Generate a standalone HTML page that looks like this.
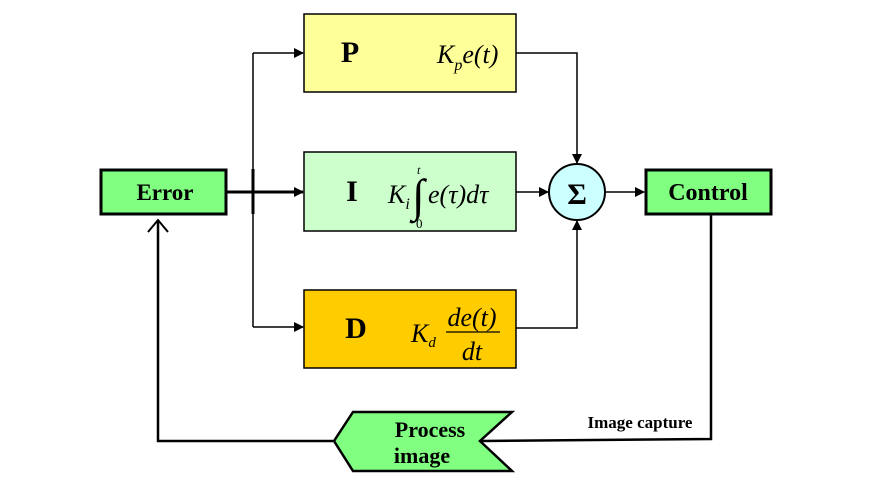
<!DOCTYPE html>
<html><head><meta charset="utf-8"><style>
body{margin:0;background:#fff}
svg text{font-family:"Liberation Serif",serif}
</style></head><body>
<svg width="887" height="474" viewBox="0 0 887 474">
<defs><marker id="ah" markerWidth="10" markerHeight="10" refX="9" refY="5" orient="auto" markerUnits="userSpaceOnUse"><path d="M0,0 L10,5 L0,10z" fill="#000"/></marker></defs>
<g stroke="#000" stroke-width="1.5" fill="none">
<path d="M253,53 V327"/>
<path d="M253,53 H303" marker-end="url(#ah)"/>
<path d="M253,327 H303" marker-end="url(#ah)"/>
<path d="M226,192 H303" stroke-width="3" marker-end="url(#ah)"/>
<path d="M253,169 V214" stroke-width="3"/>
<path d="M516,53 H577 V163" marker-end="url(#ah)"/>
<path d="M516,328 H577 V221" marker-end="url(#ah)"/>
<path d="M516,192 H548" marker-end="url(#ah)"/>
<path d="M605,192 H644" marker-end="url(#ah)"/>
<path d="M711,214 V439 L480,441" stroke-width="2.5"/>
<path d="M333,441 H158 V220" stroke-width="2.5"/>
<path d="M148,232 L158,220 L168,232" stroke-width="2"/>
</g>
<g>
<rect x="304" y="14" width="212" height="78" fill="#ffff99" stroke="#000" stroke-width="1.5"/>
<text x="350" y="62" font-size="30" font-weight="bold" text-anchor="middle">P</text>
<text x="437" y="63" font-size="26" font-style="italic">K<tspan font-size="16" dy="7">p</tspan><tspan dy="-7">e(t)</tspan></text>
</g>
<g>
<rect x="304" y="152" width="212" height="79" fill="#ccffcc" stroke="#000" stroke-width="1.5"/>
<text x="352" y="201" font-size="30" font-weight="bold" text-anchor="middle">I</text>
<text x="388" y="203" font-size="26" font-style="italic">K<tspan font-size="16" dy="6">i</tspan></text>
<text x="412" y="211" font-size="46">∫</text>
<text x="417" y="174" font-size="12" font-style="italic">t</text>
<text x="416" y="228" font-size="13">0</text>
<text x="428" y="203" font-size="26" font-style="italic">e(τ)dτ</text>
</g>
<g>
<rect x="304" y="290" width="212" height="78" fill="#ffcc00" stroke="#000" stroke-width="1.5"/>
<text x="356" y="338" font-size="30" font-weight="bold" text-anchor="middle">D</text>
<text x="411" y="342" font-size="26" font-style="italic">K<tspan font-size="15" dy="5">d</tspan></text>
<text x="472" y="326" font-size="26" font-style="italic" text-anchor="middle">de(t)</text>
<line x1="446" y1="332" x2="500" y2="332" stroke="#000" stroke-width="1.2"/>
<text x="472" y="360" font-size="26" font-style="italic" text-anchor="middle">dt</text>
</g>
<g>
<rect x="101" y="170" width="125" height="44" fill="#80ff80" stroke="#000" stroke-width="3"/>
<text x="165" y="200" font-size="23" font-weight="bold" text-anchor="middle">Error</text>
</g>
<g>
<rect x="646" y="170" width="125" height="44" fill="#80ff80" stroke="#000" stroke-width="3"/>
<text x="708" y="200" font-size="24" font-weight="bold" text-anchor="middle">Control</text>
</g>
<g>
<circle cx="577" cy="192" r="28" fill="#ccffff" stroke="#000" stroke-width="2"/>
<text x="577" y="204" font-size="30" font-weight="bold" text-anchor="middle">Σ</text>
</g>
<g>
<path d="M353,412 H512 L480,441 L512,471 H353 L334,441 Z" fill="#80ff80" stroke="#000" stroke-width="2.5"/>
<text x="430" y="437" font-size="22" font-weight="bold" text-anchor="middle">Process</text>
<text x="422" y="463" font-size="22" font-weight="bold" text-anchor="middle">image</text>
</g>
<text x="640" y="428" font-size="17" font-weight="bold" text-anchor="middle">Image capture</text>
</svg>
</body></html>
